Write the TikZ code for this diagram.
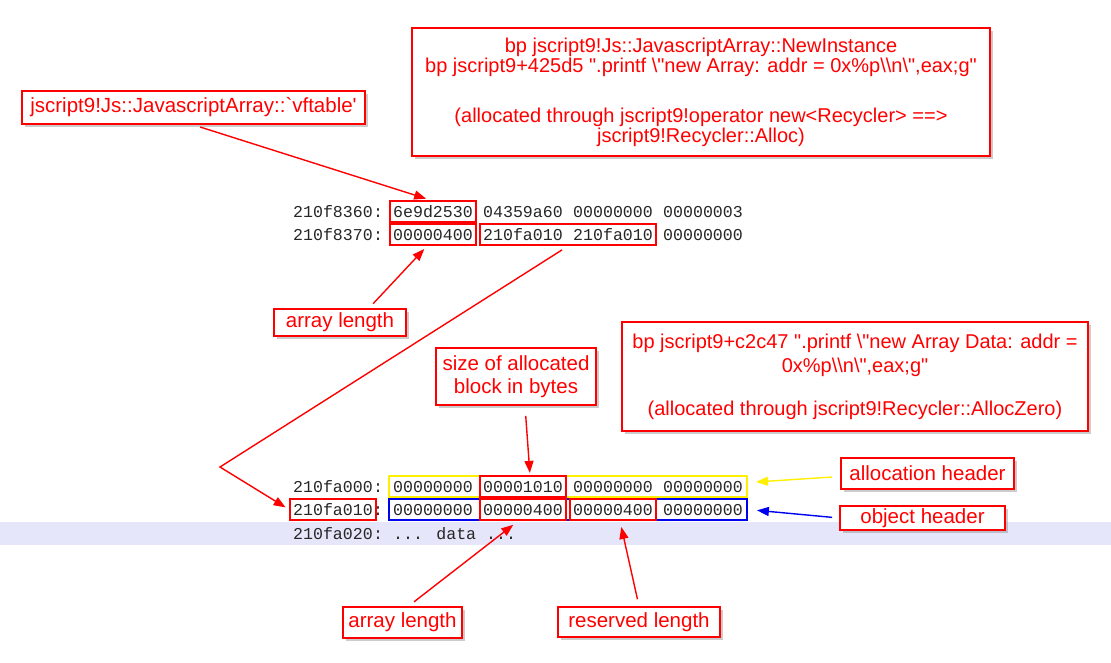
\documentclass[tikz,border=0pt]{standalone}
\usepackage{fontspec}
\newfontfamily\lblfont{Liberation Sans}
\newfontfamily\hexfont{Liberation Mono}
\usetikzlibrary{arrows.meta,shadows,fit}
\definecolor{notered}{RGB}{255,0,0}
\definecolor{hdryellow}{RGB}{255,240,0}
\definecolor{hdrblue}{RGB}{0,0,240}
\definecolor{rowband}{RGB}{230,230,250}

\tikzset{
  note/.style={draw=notered, line width=1.8pt, fill=white, text=notered,
    font=\lblfont\fontsize{20.5}{24}\selectfont, align=center, inner sep=2pt,
    drop shadow={opacity=0.4, shadow xshift=3pt, shadow yshift=-3pt}},
  hex/.style={font=\hexfont\fontsize{16.6}{20}\selectfont, text=black!85,
    inner sep=0pt, text height=11pt, text depth=0pt, anchor=base},
  wordbox/.style={draw=notered, line width=1.8pt, inner xsep=3pt, inner ysep=5pt},
  hdrbox/.style={line width=1.8pt, inner xsep=4pt, inner ysep=5pt},
  pointer/.style={notered, line width=1.4pt, -{Triangle[length=12pt,width=9pt]}}
}

\begin{document}
\begin{tikzpicture}[x=1pt,y=-1pt]
  \useasboundingbox (0,0) rectangle (1111,662);
  \fill[rowband] (0,522) rectangle (1111,545);

  \node[note, minimum width=343pt, minimum height=33pt] (vft) at (193.5,107.5)
    {jscript9!Js::JavascriptArray::`vftable'};
  \node[note, minimum width=578pt, minimum height=128pt,
    font=\lblfont\fontsize{20}{20}\selectfont] (newinst) at (701,92)
    {bp jscript9!Js::JavascriptArray::NewInstance\\
     bp jscript9+425d5 ".printf \textbackslash"new Array: addr = 0x\%p\textbackslash\textbackslash n\textbackslash",eax;g"\\[30pt]
     (allocated through jscript9!operator new<Recycler> ==>\\
     jscript9!Recycler::Alloc)};
  \node[note, minimum width=132pt, minimum height=27pt] (alen1) at (340,322.5) {array length};
  \node[note, minimum width=160pt, minimum height=57pt,
    font=\lblfont\fontsize{20.5}{23}\selectfont] (size) at (516,376.5)
    {size of allocated\\block in bytes};
  \node[note, minimum width=466pt, minimum height=109pt,
    font=\lblfont\fontsize{20}{24}\selectfont] (newdata) at (855,376.5)
    {bp jscript9+c2c47 ".printf \textbackslash"new Array Data: addr =\\
     0x\%p\textbackslash\textbackslash n\textbackslash",eax;g"\\[19pt]
     (allocated through jscript9!Recycler::AllocZero)};
  \node[note, minimum width=173pt, minimum height=31pt] (alloc) at (927.5,473.5) {allocation header};
  \node[note, minimum width=165pt, minimum height=24pt] (obj) at (922.5,518) {object header};
  \node[note, minimum width=119pt, minimum height=31pt] (alen2) at (402.5,622.5) {array length};
  \node[note, minimum width=162pt, minimum height=30pt] (res) at (639,622) {reserved length};

  \foreach \r/\y/\addr/\hexa/\hexb/\hexc/\hexd in {
      1/217/210f8360/6e9d2530/04359a60/00000000/00000003,
      2/240/210f8370/00000400/210fa010/210fa010/00000000,
      3/492/210fa000/00000000/00001010/00000000/00000000,
      4/515/210fa010/00000000/00000400/00000400/00000000} {
    \node[hex] (r\r-0) at (333,\y) {\addr};
    \node[hex] (r\r-c) at (378,\y) {:};
    \node[hex] (r\r-1) at (433,\y) {\hexa};
    \node[hex] (r\r-2) at (523,\y) {\hexb};
    \node[hex] (r\r-3) at (613,\y) {\hexc};
    \node[hex] (r\r-4) at (703,\y) {\hexd};
  }
  \node[hex] (r5-0) at (333,539) {210fa020};
  \node[hex] (r5-c) at (378,539) {:};
  \node[hex, anchor=base west] (r5-1) at (393,539) {... data ...};

  \node[hdrbox, draw=hdryellow, fit=(r3-1)(r3-4)] (allochdr) {};
  \node[hdrbox, draw=hdrblue, fit=(r4-1)(r4-4)] (objhdr) {};
  \node[wordbox, fit=(r1-1)] (vftptr) {};
  \node[wordbox, fit=(r2-1)] (len1) {};
  \node[wordbox, fit=(r2-2)(r2-3)] (segptr) {};
  \node[wordbox, fit=(r3-2)] (blksize) {};
  \node[wordbox, fit=(r4-0)] (segaddr) {};
  \node[wordbox, fit=(r4-2)] (len2) {};
  \node[wordbox, fit=(r4-3)] (reslen) {};

  \coordinate (bend) at (220,467);
  \draw[pointer, shorten <=7pt, shorten >=4pt] (vft.south) -- ([xshift=-3pt]vftptr.north);
  \draw[pointer, shorten <=6pt, shorten >=4pt] ([xshift=29pt]alen1.north) -- ([xshift=-6pt]len1.south);
  \draw[pointer, shorten <=7pt, shorten >=4pt] (segptr.south) -- (bend) -- (segaddr.west);
  \draw[pointer, shorten <=10pt, shorten >=2pt] ([xshift=9pt]size.south) -- ([xshift=7pt]blksize.north);
  \draw[pointer, hdryellow, shorten <=8pt, shorten >=8pt] ([yshift=-3pt]alloc.west) -- ([yshift=4pt]allochdr.east);
  \draw[pointer, hdrblue, shorten <=7pt, shorten >=9pt] (obj.west) -- (objhdr.east);
  \draw[pointer, shorten <=7pt, shorten >=6pt] ([xshift=6pt]alen2.north) -- ([xshift=-5pt]len2.south);
  \draw[pointer, shorten <=7pt, shorten >=6pt] (res.north) -- ([xshift=7pt]reslen.south);
\end{tikzpicture}
\end{document}
